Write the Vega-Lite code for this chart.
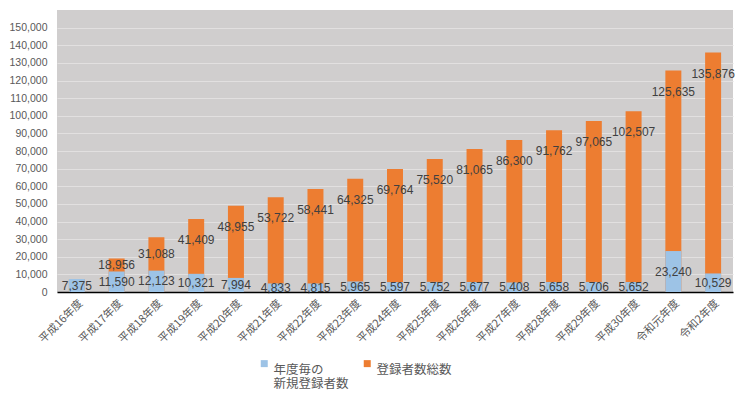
{
  "$schema": "https://vega.github.io/schema/vega-lite/v6.json",
  "width": 676,
  "height": 282,
  "autosize": {"type": "none"},
  "padding": {"left": 57, "top": 10, "right": 9, "bottom": 103},
  "background": "white",
  "config": {"view": {"fill": "#D0CECE", "stroke": null}, "font": "Liberation Sans"},
  "data": {"values": [
    {"year": "平成16年度", "new": 7375, "total": 7375},
    {"year": "平成17年度", "new": 11590, "total": 18956},
    {"year": "平成18年度", "new": 12123, "total": 31088},
    {"year": "平成19年度", "new": 10321, "total": 41409},
    {"year": "平成20年度", "new": 7994, "total": 48955},
    {"year": "平成21年度", "new": 4833, "total": 53722},
    {"year": "平成22年度", "new": 4815, "total": 58441},
    {"year": "平成23年度", "new": 5965, "total": 64325},
    {"year": "平成24年度", "new": 5597, "total": 69764},
    {"year": "平成25年度", "new": 5752, "total": 75520},
    {"year": "平成26年度", "new": 5677, "total": 81065},
    {"year": "平成27年度", "new": 5408, "total": 86300},
    {"year": "平成28年度", "new": 5658, "total": 91762},
    {"year": "平成29年度", "new": 5706, "total": 97065},
    {"year": "平成30年度", "new": 5652, "total": 102507},
    {"year": "令和元年度", "new": 23240, "total": 125635},
    {"year": "令和2年度", "new": 10529, "total": 135876}
  ]},
  "layer": [
    {
      "transform": [{"fold": ["total", "new"], "as": ["series", "value"]}],
      "mark": {"type": "bar"},
      "encoding": {
        "x": {"field": "year", "type": "nominal", "sort": null,
          "scale": {"paddingInner": 0.598, "paddingOuter": 0.299},
          "axis": {"title": null, "labelAngle": -45, "labelFontSize": 11, "labelColor": "#595959",
            "labelFont": "Noto Sans CJK JP", "ticks": false, "domainColor": "#000000", "domainWidth": 1.5,
            "labelPadding": 5, "grid": false}},
        "y": {"field": "value", "type": "quantitative", "stack": null, "title": null,
          "scale": {"domain": [0, 150000]},
          "axis": {"title": null, "values": [0,10000,20000,30000,40000,50000,60000,70000,80000,90000,100000,110000,120000,130000,140000,150000],
            "format": ",d", "labelFontSize": 10.5, "labelColor": "#595959", "ticks": false, "domain": false,
            "gridColor": "#E2E0E0", "gridWidth": 1, "labelPadding": 10}},
        "color": {"field": "series", "type": "nominal",
          "scale": {"domain": ["new", "total"], "range": ["#9DC3E6", "#ED7D31"]},
          "legend": {"orient": "none", "legendX": 201, "legendY": 347, "direction": "horizontal", "columns": 2,
            "symbolType": "square", "symbolSize": 49, "symbolStrokeWidth": 0, "labelFontSize": 12.5,
            "labelFont": "Noto Sans CJK JP", "labelColor": "#595959", "title": null, "labelOffset": 3,
            "labelBaseline": "top", "labelLineHeight": 17,
            "labelExpr": "datum.value == 'new' ? ['年度毎の', '新規登録者数'] : ['登録者数総数', ' ']",
            "columnPadding": 12, "labelLimit": 200}},
        "order": {"field": "series", "sort": "descending"}
      }
    },
    {
      "transform": [{"calculate": "datum.new / 2", "as": "mid"}],
      "mark": {"type": "text", "fontSize": 12, "color": "#404040", "baseline": "middle"},
      "encoding": {
        "x": {"field": "year", "type": "nominal", "sort": null},
        "y": {"field": "mid", "type": "quantitative", "title": null,
          "axis": {"title": null, "values": [0,10000,20000,30000,40000,50000,60000,70000,80000,90000,100000,110000,120000,130000,140000,150000],
            "format": ",d", "labelFontSize": 10.5, "labelColor": "#595959", "ticks": false, "domain": false,
            "gridColor": "#E2E0E0", "gridWidth": 1, "labelPadding": 10}},
        "text": {"field": "new", "type": "quantitative", "format": ","}
      }
    },
    {
      "transform": [
        {"filter": "datum.total > datum.new"},
        {"calculate": "datum.total - min((datum.total - datum.new) / 2, 12000)", "as": "lp"}
      ],
      "mark": {"type": "text", "fontSize": 12, "color": "#404040", "baseline": "middle"},
      "encoding": {
        "x": {"field": "year", "type": "nominal", "sort": null},
        "y": {"field": "lp", "type": "quantitative", "title": null,
          "axis": {"title": null, "values": [0,10000,20000,30000,40000,50000,60000,70000,80000,90000,100000,110000,120000,130000,140000,150000],
            "format": ",d", "labelFontSize": 10.5, "labelColor": "#595959", "ticks": false, "domain": false,
            "gridColor": "#E2E0E0", "gridWidth": 1, "labelPadding": 10}},
        "text": {"field": "total", "type": "quantitative", "format": ","}
      }
    }
  ]
}
